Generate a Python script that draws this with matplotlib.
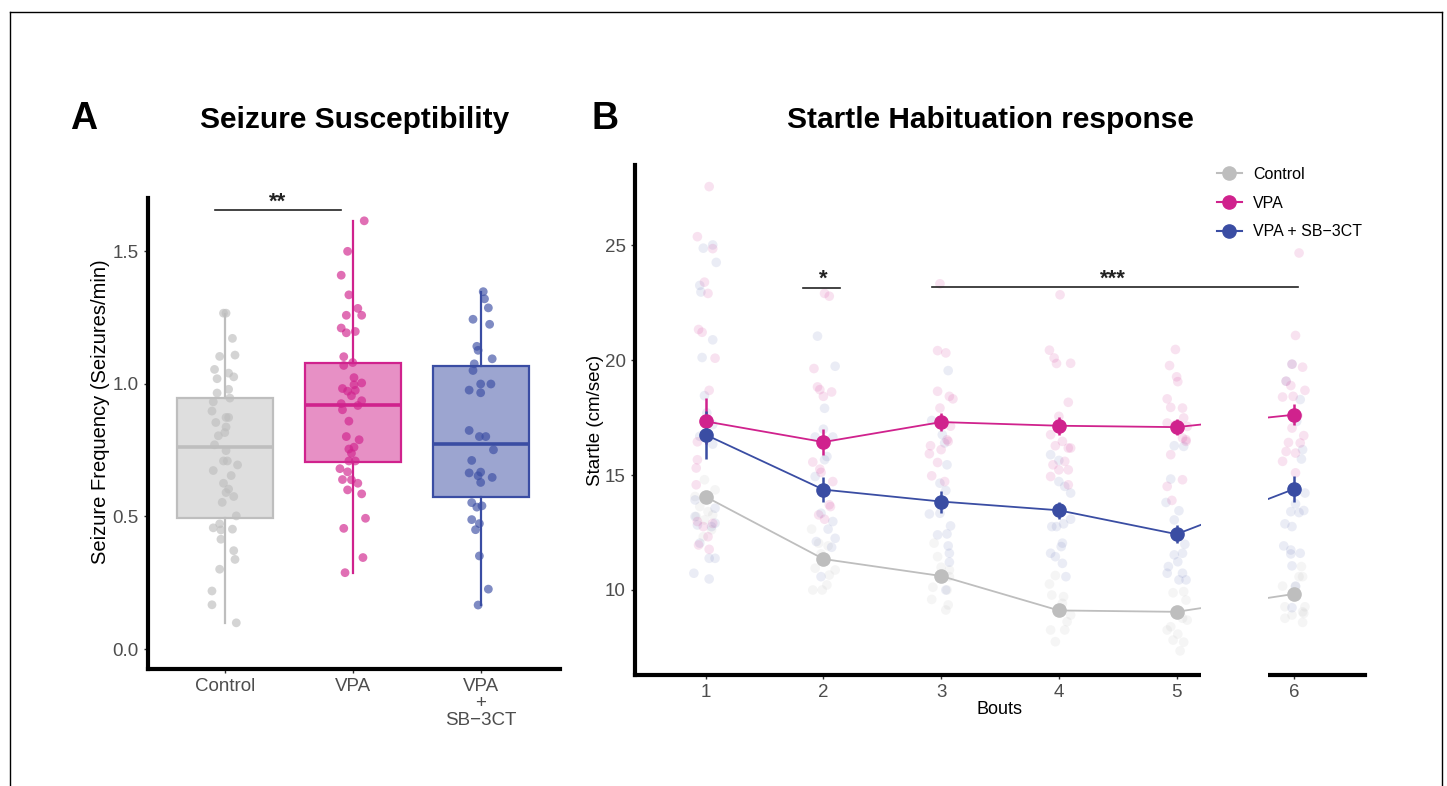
import matplotlib
matplotlib.use('Agg')
import matplotlib.pyplot as plt
from matplotlib.lines import Line2D
from matplotlib.patches import Rectangle
from matplotlib.colors import to_rgba

plt.rcParams['font.family'] = ['Liberation Sans', 'DejaVu Sans']

# ---------------- data: panel A ----------------
groups_A = ['Control', 'VPA', 'VPA\n+\nSB\u22123CT']
box_q1 = [0.494, 0.706, 0.574]
box_med = [0.762, 0.921, 0.774]
box_q3 = [0.947, 1.079, 1.068]
box_lo = [0.100, 0.287, 0.166]
box_hi = [1.264, 1.615, 1.347]

ctrl_A = [1.266, 1.266, 1.171, 1.103, 1.108, 1.054, 1.019, 1.040, 1.026, 0.965, 0.979, 0.946,
          0.932, 0.897, 0.873, 0.873, 0.854, 0.837, 0.816, 0.804, 0.770, 0.748, 0.709, 0.709,
          0.694, 0.673, 0.654, 0.625, 0.603, 0.590, 0.575, 0.553, 0.502, 0.457, 0.472, 0.449,
          0.452, 0.414, 0.371, 0.338, 0.301, 0.219, 0.167, 0.099]
ctrl_A_jit = [-0.01, 0.01, 0.06, -0.04, 0.08, -0.08, -0.06, 0.03, 0.07, -0.06, 0.03, 0.04,
              -0.09, -0.10, 0.01, 0.03, -0.07, 0.01, 0.00, -0.05, -0.08, 0.01, -0.01, 0.02,
              0.10, -0.09, 0.05, -0.01, 0.03, 0.01, 0.07, -0.02, 0.09, -0.09, -0.04, -0.03,
              0.06, -0.03, 0.07, 0.08, -0.04, -0.10, -0.10, 0.09]
vpa_A = [1.614, 1.499, 1.409, 1.335, 1.284, 1.258, 1.258, 1.210, 1.192, 1.197, 1.102, 1.069,
         1.080, 1.023, 1.003, 0.996, 0.982, 0.972, 0.975, 0.955, 0.936, 0.918, 0.925, 0.902,
         0.859, 0.801, 0.789, 0.761, 0.754, 0.738, 0.709, 0.709, 0.680, 0.668, 0.639, 0.638,
         0.625, 0.600, 0.585, 0.493, 0.455, 0.345, 0.288]
vpa_A_jit = [0.09, -0.04, -0.09, -0.03, 0.04, -0.05, 0.07, -0.09, -0.05, 0.02, -0.07, -0.07,
             0.00, 0.01, 0.07, 0.01, -0.08, -0.04, 0.02, -0.01, 0.07, 0.04, -0.09, -0.08,
             -0.03, -0.05, 0.05, 0.01, -0.03, -0.01, -0.03, 0.02, -0.10, -0.04, -0.08, -0.01,
             0.04, -0.04, 0.07, 0.10, -0.07, 0.08, -0.06]
sb_A = [1.347, 1.320, 1.286, 1.243, 1.224, 1.141, 1.126, 1.094, 1.075, 1.050, 0.999, 0.999,
        0.976, 0.966, 0.824, 0.801, 0.801, 0.751, 0.711, 0.664, 0.667, 0.653, 0.647, 0.628,
        0.552, 0.535, 0.540, 0.488, 0.473, 0.450, 0.351, 0.226, 0.166]
sb_A_jit = [0.02, 0.03, 0.06, -0.06, 0.07, -0.03, -0.02, 0.09, -0.05, -0.06, 0.00, 0.08,
            -0.09, 0.00, -0.09, -0.01, 0.04, 0.10, -0.07, -0.09, 0.00, -0.02, 0.09, 0.00,
            -0.07, -0.03, 0.01, -0.07, -0.01, -0.04, -0.01, 0.06, -0.02]

# ---------------- data: panel B ----------------
bouts = [1, 2, 3, 4, 5, 6]
ctrl_mean = [14.06, 11.35, 10.61, 9.11, 9.05, 9.83]
ctrl_se = [0.20, 0.20, 0.20, 0.20, 0.20, 0.20]
vpa_mean = [17.34, 16.44, 17.31, 17.15, 17.09, 17.63]
vpa_se = [1.00, 0.55, 0.40, 0.40, 0.36, 0.45]
sb_mean = [16.76, 14.37, 13.85, 13.47, 12.43, 14.40]
sb_se = [1.05, 0.55, 0.48, 0.38, 0.38, 0.58]

vpa_pts = [
    [27.56, 25.38, 24.86, 23.40, 22.91, 21.34, 21.22, 20.09, 18.69, 16.45, 15.67, 15.31, 14.58, 12.98, 12.76, 12.32, 11.96, 11.77, 12.90],
    [22.91, 22.79, 19.64, 18.84, 18.72, 18.62, 18.43, 15.57, 15.26, 15.12, 14.72, 13.71, 13.63, 13.27, 13.08],
    [23.33, 20.42, 20.32, 18.65, 18.43, 18.32, 17.92, 17.13, 16.28, 16.54, 15.93, 15.55, 14.97, 14.72, 16.11, 16.47],
    [22.85, 20.44, 20.10, 19.86, 19.87, 18.17, 17.56, 16.76, 16.18, 16.47, 16.18, 16.28, 15.60, 14.94, 15.23, 15.23, 14.58, 15.45],
    [20.47, 19.77, 19.28, 19.07, 18.32, 17.95, 17.92, 17.49, 17.20, 17.12, 17.27, 16.62, 16.54, 16.47, 15.89, 14.80, 14.51, 13.90],
    [24.67, 21.08, 19.83, 19.70, 19.09, 18.90, 18.69, 18.40, 18.43, 17.59, 17.05, 16.72, 16.42, 16.40, 16.03, 15.96, 15.60, 15.10],
]
vpa_jit = [
    [0.03, -0.07, 0.06, -0.01, 0.02, -0.06, -0.03, 0.08, 0.03, -0.07, -0.07, -0.08, -0.08, -0.07, -0.02, 0.02, -0.06, 0.03, 0.06],
    [0.01, 0.05, -0.08, -0.05, -0.03, 0.07, 0.00, -0.09, -0.03, -0.02, 0.08, 0.05, 0.06, -0.04, 0.01],
    [-0.01, -0.03, 0.04, -0.03, 0.07, 0.10, -0.01, 0.08, -0.09, 0.05, -0.10, -0.03, -0.08, 0.03, 0.00, 0.06],
    [0.01, -0.08, -0.04, -0.02, 0.10, 0.08, 0.00, -0.07, 0.08, 0.03, 0.10, -0.03, 0.05, -0.07, 0.00, 0.08, 0.08, -0.05],
    [-0.01, -0.06, 0.00, 0.01, -0.08, -0.05, 0.05, 0.06, -0.01, 0.09, -0.08, 0.05, 0.08, 0.08, -0.05, 0.05, -0.08, -0.04],
    [0.04, 0.01, -0.02, 0.07, -0.07, -0.03, 0.09, -0.10, -0.01, 0.03, -0.02, 0.08, -0.05, 0.05, -0.07, 0.01, -0.10, 0.01],
]
sb_pts = [
    [24.88, 25.02, 24.26, 23.26, 22.97, 20.89, 20.12, 18.46, 17.71, 17.20, 16.69, 16.35, 13.92, 13.20, 12.83, 12.04, 11.38, 11.38, 13.56, 12.76, 12.91, 10.73, 10.48],
    [21.05, 19.74, 17.91, 17.00, 16.66, 16.66, 15.67, 15.81, 14.94, 13.34, 12.98, 12.65, 12.11, 12.25, 11.86, 10.58],
    [19.55, 17.38, 16.76, 16.40, 15.45, 14.65, 14.33, 13.31, 13.34, 12.40, 12.44, 12.79, 11.92, 11.60, 11.21, 10.00],
    [15.89, 15.64, 14.72, 14.51, 14.22, 13.08, 12.88, 12.76, 12.76, 12.04, 11.89, 11.60, 11.45, 11.16, 10.58],
    [16.28, 16.25, 14.83, 13.81, 13.45, 13.05, 11.99, 11.60, 11.53, 11.23, 11.02, 10.73, 10.73, 10.44, 10.44],
    [19.83, 19.09, 18.29, 17.34, 16.11, 15.70, 14.22, 13.75, 13.41, 13.37, 13.46, 12.88, 12.76, 11.92, 11.74, 11.57, 11.60, 11.05, 9.23, 10.17],
]
sb_jit = [
    [-0.02, 0.06, 0.09, -0.05, -0.04, 0.06, -0.03, -0.01, 0.01, 0.06, -0.05, 0.06, -0.09, -0.09, -0.07, -0.05, 0.03, 0.08, 0.08, 0.05, 0.08, -0.10, 0.03],
    [-0.05, 0.10, 0.01, 0.00, 0.08, -0.07, 0.01, 0.03, -0.07, -0.02, 0.08, 0.04, -0.06, 0.10, 0.07, -0.02],
    [0.06, -0.08, 0.01, 0.03, 0.05, -0.01, 0.04, -0.10, -0.01, -0.03, 0.05, 0.08, 0.06, 0.07, 0.07, 0.04],
    [-0.07, 0.00, 0.00, 0.05, 0.10, 0.10, 0.04, -0.06, -0.02, 0.03, 0.02, -0.07, -0.03, 0.03, 0.06],
    [-0.02, 0.06, -0.05, -0.09, 0.02, -0.02, 0.07, 0.05, -0.02, 0.01, -0.07, -0.08, 0.05, 0.02, 0.08],
    [-0.02, -0.07, 0.05, 0.02, 0.07, 0.06, 0.09, 0.01, -0.03, 0.04, 0.08, -0.08, -0.02, -0.09, -0.03, -0.03, 0.05, -0.02, -0.02, 0.01],
]
ctrl_pts = [
    [14.07, 14.80, 14.36, 13.63, 13.41, 13.20, 13.05, 13.27, 12.62, 12.32],
    [12.65, 12.04, 11.92, 11.57, 10.95, 10.65, 10.00, 10.00, 10.22, 10.87],
    [12.04, 11.45, 10.99, 10.87, 10.58, 10.12, 10.00, 9.59, 9.13, 9.35],
    [10.63, 10.26, 9.78, 9.71, 9.42, 8.91, 8.62, 8.26, 8.26, 7.75],
    [9.88, 9.93, 9.56, 8.77, 8.69, 8.26, 8.40, 8.08, 7.82, 7.73, 7.35],
    [11.02, 10.58, 10.58, 10.17, 10.15, 9.27, 9.27, 9.05, 8.98, 8.77, 8.59, 8.91],
]
ctrl_jit = [
    [-0.09, -0.01, 0.08, -0.05, 0.02, -0.08, -0.01, 0.06, 0.05, -0.02],
    [-0.10, -0.04, 0.04, -0.02, -0.07, 0.05, -0.09, -0.01, 0.03, 0.10],
    [-0.06, -0.03, 0.00, 0.07, 0.07, -0.07, 0.05, -0.08, 0.04, 0.06],
    [-0.03, -0.08, -0.06, 0.04, 0.03, 0.10, 0.07, -0.07, 0.05, -0.03],
    [-0.03, 0.06, 0.08, 0.05, 0.09, -0.08, -0.05, 0.01, -0.03, 0.06, 0.03],
    [0.06, 0.04, 0.07, -0.10, 0.01, -0.08, 0.09, 0.07, 0.08, -0.08, 0.07, -0.02],
]
legend_labels = ['Control', 'VPA', 'VPA + SB\u22123CT']

# ---------------- styling ----------------
GRAY = '#BEBEBE'
PINK = '#D0228D'
BLUE = '#3A4DA3'
TICKCOL = '#4D4D4D'
W, H = 1447, 786

fig = plt.figure(figsize=(W / 100, H / 100), dpi=100)


def px(x, y):
    return x / W, 1 - y / H


def style_axes(ax):
    for s in ['top', 'right']:
        ax.spines[s].set_visible(False)
    for s in ['left', 'bottom']:
        ax.spines[s].set_linewidth(3.0)
        ax.spines[s].set_capstyle('projecting')
    ax.tick_params(axis='both', colors='#333333', length=3, width=1.0,
                   labelcolor=TICKCOL, labelsize=13.5)
    ax.set_facecolor('none')


# ---------------- panel A ----------------
axA = fig.add_axes([148 / W, 1 - 669 / H, (560 - 148) / W, (669 - 198) / H])
style_axes(axA)
colors = [GRAY, PINK, BLUE]
stats = []
for i in range(3):
    stats.append(dict(med=box_med[i], q1=box_q1[i], q3=box_q3[i],
                      whislo=box_lo[i], whishi=box_hi[i], fliers=[]))
bp = axA.bxp(stats, positions=[0, 1, 2], widths=0.75, patch_artist=True,
             showfliers=False, showcaps=False)
for i, c in enumerate(colors):
    bp['boxes'][i].set_facecolor(to_rgba(c, 0.5))
    bp['boxes'][i].set_edgecolor(c)
    bp['boxes'][i].set_linewidth(1.6)
    bp['medians'][i].set_color(c)
    bp['medians'][i].set_linewidth(2.6)
    for w in bp['whiskers'][2 * i:2 * i + 2]:
        w.set_color(c)
        w.set_linewidth(1.6)

for i, (vals, jit, c) in enumerate([(ctrl_A, ctrl_A_jit, GRAY), (vpa_A, vpa_A_jit, PINK),
                                    (sb_A, sb_A_jit, BLUE)]):
    axA.scatter([i + j for j in jit], vals, s=40, color=c, alpha=0.65,
                edgecolors='none', zorder=3)

axA.set_xlim(-0.6, 2.62)
axA.set_ylim(-0.075, 1.70)
axA.set_xticks([0, 1, 2])
axA.set_xticklabels(groups_A, linespacing=1.0)
axA.set_yticks([0.0, 0.5, 1.0, 1.5])
axA.set_yticklabels(['0.0', '0.5', '1.0', '1.5'])

axA.plot([-0.08, 0.906], [1.653, 1.653], color='#222222', lw=1.2, clip_on=False)
axA.text(0.41, 1.643, '**', ha='center', va='bottom', fontsize=16,
         fontweight='bold', color='#222222')

fig.text(*px(101, 412), 'Seizure Frequency (Seizures/min)', rotation=90,
         ha='center', va='center', fontsize=14.5, color='black')

# ---------------- panel B ----------------
axB = fig.add_axes([635 / W, 1 - 675 / H, (1365 - 635) / W, (675 - 165) / H])
style_axes(axB)

for pts, jit, c, a in [(ctrl_pts, ctrl_jit, GRAY, 0.15), (sb_pts, sb_jit, BLUE, 0.10),
                       (vpa_pts, vpa_jit, PINK, 0.13)]:
    for b, vals, jj in zip(bouts, pts, jit):
        axB.scatter([b + j for j in jj], vals, s=48, color=c, alpha=a,
                    edgecolors='none', zorder=2)

for mean, se, c, lab in [(ctrl_mean, ctrl_se, GRAY, legend_labels[0]),
                         (vpa_mean, vpa_se, PINK, legend_labels[1]),
                         (sb_mean, sb_se, BLUE, legend_labels[2])]:
    axB.errorbar(bouts, mean, yerr=se, color=c, lw=1.3, elinewidth=1.8,
                 marker='o', markersize=9.5, capsize=0, zorder=4, label=lab)

axB.set_xlim(0.4, 6.6)
axB.set_ylim(6.3, 28.5)
axB.set_xticks(bouts)
axB.set_xticklabels([str(b) for b in bouts])
axB.set_yticks([10, 15, 20, 25])
axB.set_xlabel('Bouts', fontsize=13, color='black', labelpad=0)
axB.set_ylabel('Startle (cm/sec)', fontsize=13.5, color='black', labelpad=1)

axB.plot([1.825, 2.14], [23.13, 23.13], color='#222222', lw=1.2)
axB.text(2.0, 23.08, '*', ha='center', va='bottom', fontsize=16,
         fontweight='bold', color='#222222')
axB.plot([2.92, 6.03], [23.17, 23.17], color='#222222', lw=1.2)
axB.text(4.46, 23.08, '***', ha='center', va='bottom', fontsize=16,
         fontweight='bold', color='#222222')

handles = [Line2D([], [], color=c, marker='o', markersize=9.5, lw=1.5)
           for c in [GRAY, PINK, BLUE]]
fig.legend(handles, legend_labels, loc='upper left', bbox_to_anchor=px(1217, 167),
           frameon=False, fontsize=11.5, handlelength=1.55, handletextpad=0.7,
           labelspacing=0.85, borderpad=0, borderaxespad=0)

# white gap breaking the panel between bouts 5 and 6
fig.add_artist(Rectangle(px(1201, 682), (1268 - 1201) / W, (682 - 300) / H,
                         transform=fig.transFigure, facecolor='white',
                         edgecolor='none', zorder=10))

# ---------------- titles ----------------
fig.text(*px(84, 119), 'A', ha='center', va='center', fontsize=27, fontweight='bold')
fig.text(*px(355, 120), 'Seizure Susceptibility', ha='center', va='center',
         fontsize=21.5, fontweight='bold')
fig.text(*px(605, 119), 'B', ha='center', va='center', fontsize=27, fontweight='bold')
fig.text(*px(990, 120), 'Startle Habituation response', ha='center', va='center',
         fontsize=21.5, fontweight='bold')

# ---------------- page border ----------------
for xs, ys in [([10, 1442], [12, 12]), ([10, 10], [12, 786]), ([1442, 1442], [12, 786])]:
    fig.add_artist(Line2D([x / W for x in xs], [1 - y / H for y in ys],
                          transform=fig.transFigure, color='black', lw=1.0))

fig.savefig('out.png', dpi=100)
